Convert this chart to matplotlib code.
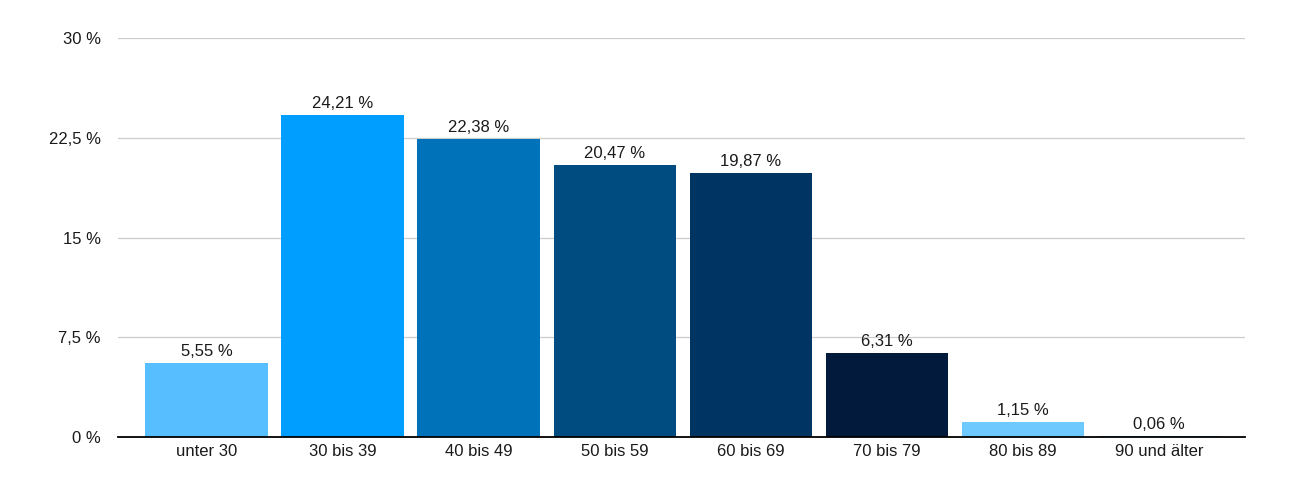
import matplotlib
matplotlib.use('Agg')
import matplotlib.pyplot as plt
from matplotlib.ticker import FixedLocator

categories = ['unter 30', '30 bis 39', '40 bis 49', '50 bis 59', '60 bis 69',
              '70 bis 79', '80 bis 89', '90 und älter']
values = [5.55, 24.21, 22.38, 20.47, 19.87, 6.31, 1.15, 0.06]
bar_colors = ['#57bfff', '#009fff', '#0072b9', '#004c81', '#003462',
              '#021a3b', '#6ec9ff', '#5ab3ee']
y_ticks = [0, 7.5, 15, 22.5, 30]
y_tick_labels = ['0 %', '7,5 %', '15 %', '22,5 %', '30 %']

plt.rcParams['font.family'] = ['Liberation Sans', 'DejaVu Sans']

fig = plt.figure(figsize=(13, 4.94), dpi=100)
ax = fig.add_axes([0.0908, 0.1154, 0.8669, 0.8076])

x = list(range(len(categories)))
ax.bar(x, values, width=0.9, color=bar_colors, zorder=3)

for xi, v in zip(x, values):
    ax.text(xi, v + 0.3, f'{v:.2f} %'.replace('.', ','), ha='center', va='bottom',
            fontsize=12, color='#1a1a1a', zorder=4)

ax.set_xlim(-0.65, 7.63)
ax.set_ylim(0, 30)
ax.yaxis.set_major_locator(FixedLocator(y_ticks))
ax.set_yticklabels(y_tick_labels)
ax.set_xticks(x)
ax.set_xticklabels(categories)
ax.tick_params(axis='both', length=0, labelsize=12, colors='#1a1a1a')
ax.tick_params(axis='y', pad=12.5)
ax.tick_params(axis='x', pad=5)

ax.grid(axis='y', color='#cccccc', linewidth=0.9, zorder=0)
for side in ['top', 'right', 'left']:
    ax.spines[side].set_visible(False)
ax.spines['bottom'].set_color('#000000')
ax.spines['bottom'].set_linewidth(1.3)
ax.spines['bottom'].set_zorder(5)

fig.savefig('out.png', dpi=100)
